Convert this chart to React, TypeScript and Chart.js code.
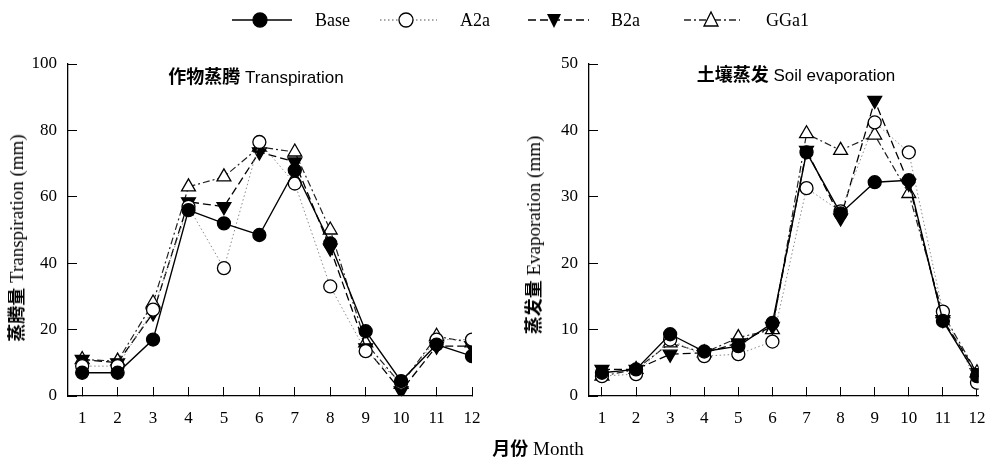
import React, { useEffect, useRef } from "react";
import { Chart, registerables } from "chart.js";
Chart.register(...registerables);

const months = [1, 2, 3, 4, 5, 6, 7, 8, 9, 10, 11, 12];
const seriesNames = ["Base", "A2a", "B2a", "GGa1"];

// 作物蒸腾 Transpiration (mm)
const transBase = [7, 7, 17, 56, 52, 48.5, 68, 46, 19.5, 4.5, 15.5, 12];
const transA2a = [9, 9, 26, 57, 38.5, 76.5, 64, 33, 13.5, 4, 17, 17];
const transB2a = [11, 10, 25, 58.5, 57, 73.5, 70.5, 44.5, 14.5, 1.5, 15, 15];
const transGGa1 = [11, 10.5, 28, 63, 66, 75, 73.5, 50, 16, 3.5, 18, 16];

// 土壤蒸发 Soil evaporation (mm)
const evapBase = [3.5, 4, 9.3, 6.7, 7.5, 11, 36.7, 27.5, 32.2, 32.5, 11.3, 3];
const evapA2a = [3, 3.3, 8.5, 6, 6.3, 8.2, 31.3, 27.8, 41.2, 36.7, 12.7, 2];
const evapB2a = [4, 4, 6.3, 6.5, 8, 10.5, 37, 26.8, 44.5, 32, 11.5, 3.5];
const evapGGa1 = [3, 4, 8, 6.5, 8.8, 10, 39.5, 37, 39.3, 30.5, 12.4, 3.5];

const transTicks = [0, 20, 40, 60, 80, 100];
const evapTicks = [0, 10, 20, 30, 40, 50];

const FONT = "'Liberation Serif', 'Noto Sans CJK SC', serif";
const CJK = "'Noto Sans CJK SC', sans-serif";

const styles = [
  { color: "#000", dash: [] as number[], width: 1.4, point: "circle", rot: 0, fill: "#000", r: 6.5 },
  { color: "#8a8a8a", dash: [1.5, 2.5], width: 1, point: "circle", rot: 0, fill: "#fff", r: 6.5 },
  { color: "#000", dash: [8, 4], width: 1.3, point: "triangle", rot: 180, fill: "#000", r: 8 },
  { color: "#222", dash: [7, 3, 2, 3], width: 1.2, point: "triangle", rot: 0, fill: "#fff", r: 8 },
];

function buildDatasets(series: number[][]) {
  return series.map((vals, i) => {
    const s = styles[i];
    return {
      label: seriesNames[i],
      data: months.map((m, k) => ({ x: m, y: vals[k] })),
      borderColor: s.color,
      borderWidth: s.width,
      borderDash: s.dash,
      pointStyle: s.point,
      pointRotation: s.rot,
      pointRadius: s.r,
      pointBackgroundColor: s.fill,
      pointBorderColor: "#000",
      pointBorderWidth: 1.3,
      tension: 0,
      fill: false,
    };
  });
}

type Props = {
  series: number[][];
  yTicks: number[];
  xMin: number;
  xMax: number;
  yAxisWidth: number;
  padRight: number;
  left: number;
};

function LineChart({ series, yTicks, xMin, xMax, yAxisWidth, padRight, left }: Props) {
  const ref = useRef<HTMLCanvasElement>(null);
  useEffect(() => {
    const ctx = ref.current!;
    const chart = new Chart(ctx, {
      type: "line",
      data: { datasets: buildDatasets(series) as any },
      options: {
        animation: false,
        responsive: false,
        maintainAspectRatio: false,
        layout: { padding: { left: 0, top: 64, right: padRight, bottom: 22 } },
        plugins: { legend: { display: false }, tooltip: { enabled: false }, title: { display: false } },
        scales: {
          x: {
            type: "linear",
            min: xMin,
            max: xMax,
            afterBuildTicks: (s: any) => {
              s.ticks = months.map((m) => ({ value: m }));
            },
            afterFit: (s: any) => {
              s.height = 40;
              s.paddingLeft = 0;
              s.paddingRight = 0;
            },
            border: { display: true, color: "#000", width: 1.3 },
            grid: { display: true, drawOnChartArea: false, drawTicks: true, tickLength: -9, color: "#000", lineWidth: 1 },
            ticks: { color: "#000", font: { family: FONT, size: 17 }, padding: 21, maxRotation: 0, autoSkip: false, callback: (v: any) => String(v) },
          },
          y: {
            min: yTicks[0],
            max: yTicks[yTicks.length - 1],
            afterBuildTicks: (s: any) => {
              s.ticks = yTicks.map((v) => ({ value: v }));
            },
            afterFit: (s: any) => {
              s.width = yAxisWidth;
              s.paddingTop = 0;
              s.paddingBottom = 0;
            },
            border: { display: true, color: "#000", width: 1.3 },
            grid: { display: true, drawOnChartArea: false, drawTicks: true, tickLength: -9, color: "#000", lineWidth: 1 },
            ticks: { color: "#000", font: { family: FONT, size: 17 }, padding: 20, callback: (v: any) => String(v) },
          },
        },
      } as any,
    });
    return () => chart.destroy();
  }, []);
  return (
    <canvas
      ref={ref}
      width={494}
      height={458}
      style={{ position: "absolute", left, top: 0, width: 494, height: 458 }}
    />
  );
}

function RotTitle({ cx, cy, cjk, latin }: { cx: number; cy: number; cjk: string; latin: string }) {
  return (
    <div
      style={{
        position: "absolute",
        left: cx,
        top: cy,
        transform: "translate(-50%, -50%) rotate(-90deg)",
        whiteSpace: "nowrap",
        fontFamily: FONT,
        fontSize: 19,
        color: "#000",
        lineHeight: 1,
      }}
    >
      <span style={{ fontFamily: CJK, fontWeight: 700, fontSize: 18 }}>{cjk}</span>
      <span> {latin}</span>
    </div>
  );
}

function PlotTitle({ cx, cy, cjk, latin }: { cx: number; cy: number; cjk: string; latin: string }) {
  return (
    <div
      style={{
        position: "absolute",
        left: cx,
        top: cy,
        transform: "translate(-50%, -50%)",
        whiteSpace: "nowrap",
        fontFamily: "'Liberation Sans', 'Noto Sans CJK SC', sans-serif",
        fontSize: 17,
        color: "#000",
        lineHeight: 1,
      }}
    >
      <span style={{ fontFamily: CJK, fontWeight: 700, fontSize: 18 }}>{cjk}</span>
      <span> {latin}</span>
    </div>
  );
}

function Legend() {
  const items = [
    { x1: 232, x2: 292, mx: 260, tx: 315 },
    { x1: 380, x2: 437, mx: 406, tx: 460 },
    { x1: 528, x2: 589, mx: 554, tx: 611 },
    { x1: 684, x2: 740, mx: 711, tx: 766 },
  ];
  const y = 20;
  return (
    <svg width={988} height={40} style={{ position: "absolute", left: 0, top: 0 }}>
      {items.map((it, i) => {
        const s = styles[i];
        let marker;
        if (s.point === "circle") {
          marker = <circle cx={it.mx} cy={y} r={7} fill={s.fill} stroke="#000" strokeWidth={1.3} />;
        } else if (s.rot === 180) {
          marker = <polygon points={`${it.mx - 7},${y - 6} ${it.mx + 7},${y - 6} ${it.mx},${y + 8}`} fill="#000" />;
        } else {
          marker = <polygon points={`${it.mx - 7},${y + 6} ${it.mx + 7},${y + 6} ${it.mx},${y - 8}`} fill="#fff" stroke="#000" strokeWidth={1.3} />;
        }
        return (
          <g key={i}>
            <line x1={it.x1} y1={y} x2={it.x2} y2={y} stroke={s.color} strokeWidth={s.width + 0.3} strokeDasharray={s.dash.length ? s.dash.join(",") : undefined} />
            {marker}
            <text x={it.tx} y={y + 6} fontFamily={FONT} fontSize={18} fill="#000">
              {seriesNames[i]}
            </text>
          </g>
        );
      })}
    </svg>
  );
}

export default function App() {
  useEffect(() => {
    document.body.style.margin = "0";
  }, []);
  return (
    <div style={{ position: "relative", width: 988, height: 458, background: "#fff", overflow: "hidden" }}>
      <LineChart
        series={[transBase, transA2a, transB2a, transGGa1]}
        yTicks={transTicks}
        xMin={0.6}
        xMax={12}
        yAxisWidth={68}
        padRight={22}
        left={0}
      />
      <LineChart
        series={[evapBase, evapA2a, evapB2a, evapGGa1]}
        yTicks={evapTicks}
        xMin={0.62}
        xMax={12.05}
        yAxisWidth={95}
        padRight={8}
        left={494}
      />
      <Legend />
      <PlotTitle cx={256} cy={76} cjk="作物蒸腾" latin="Transpiration" />
      <PlotTitle cx={796} cy={74} cjk="土壤蒸发" latin="Soil evaporation" />
      <RotTitle cx={16} cy={238} cjk="蒸腾量" latin="Transpiration (mm)" />
      <RotTitle cx={533} cy={235} cjk="蒸发量" latin="Evaporation (mm)" />
      <div
        style={{
          position: "absolute",
          left: 538,
          top: 448,
          transform: "translate(-50%, -50%)",
          whiteSpace: "nowrap",
          fontFamily: FONT,
          fontSize: 19,
          lineHeight: 1,
          color: "#000",
        }}
      >
        <span style={{ fontFamily: CJK, fontWeight: 700, fontSize: 18 }}>月份</span>
        <span> Month</span>
      </div>
    </div>
  );
}
